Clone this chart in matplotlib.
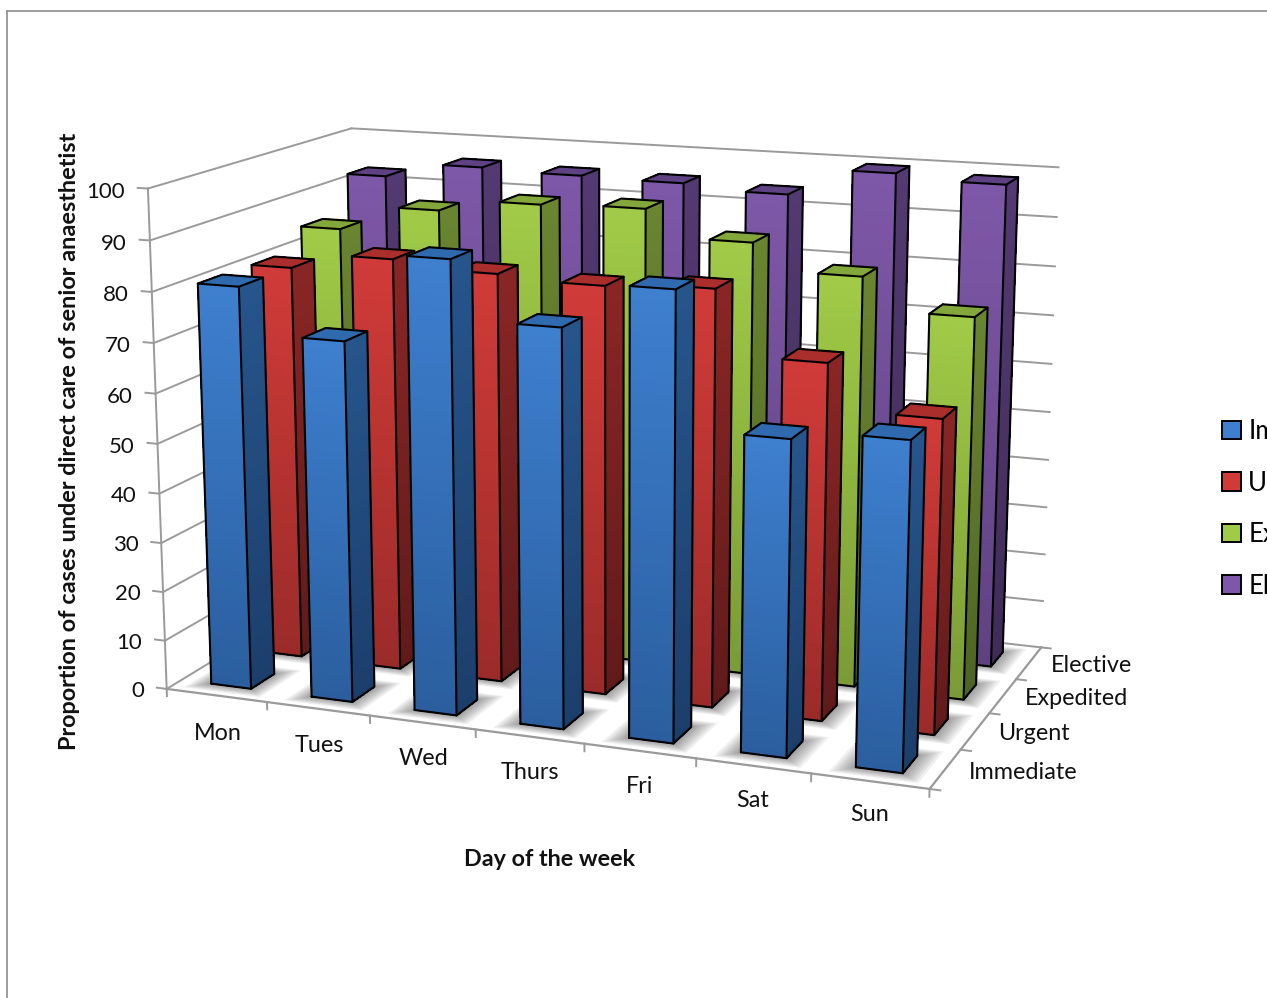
import matplotlib
matplotlib.use('Agg')
from matplotlib import pyplot as plt
from matplotlib.patches import Patch
from mpl_toolkits.mplot3d.art3d import Poly3DCollection
import numpy as np

days = ['Mon', 'Tues', 'Wed', 'Thurs', 'Fri', 'Sat', 'Sun']
grades = ['Immediate', 'Urgent', 'Expedited', 'Elective']
immediate = [81, 72, 89.3, 78, 86.7, 60.8, 62.6]
urgent = [80.8, 84, 82.6, 81.8, 82.8, 70.3, 61.5]
expedited = [85, 90.2, 92.7, 93.2, 87.9, 82.7, 76.4]
elective = [92.7, 95.8, 95.3, 95, 94, 99.5, 98.5]
values = [immediate, urgent, expedited, elective]
zticks = list(range(0, 101, 10))

# (front top, front bottom, side top, side bottom, top face)
colours = [
    ('#3E7FCF', '#2A5E9E', '#26558C', '#1C3E6B', '#2F6AAE'),
    ('#D03B38', '#9A2B29', '#8A2625', '#601A1A', '#A92E2C'),
    ('#A0CB47', '#7A9A36', '#6A8530', '#4E6424', '#83A73A'),
    ('#7E58A8', '#5F4180', '#533A72', '#3F2C57', '#5E4283'),
]
bar_w = 0.40
bar_d = 0.45
grid_c = '#9A9A9A'
# the day labels sit a little closer to the floor towards the right
day_label_z = [-8, -7.5, -7.2, -7.2, -7, -6.7, -6.5]

plt.rcParams['font.family'] = ['Lato', 'DejaVu Sans']
fig = plt.figure(figsize=(12.67, 9.98), dpi=100)
ax = fig.add_axes([-0.0265, 0.058, 1, 1], projection='3d')
ax.set_proj_type('persp', focal_length=0.55)
ax.view_init(elev=13.7, azim=-69)
ax.set_box_aspect((2.645, 1.5, 1.7), zoom=1.005)
ax.computed_zorder = False
ax.set_axis_off()


def mix(c1, c2, t):
    a = np.array(matplotlib.colors.to_rgb(c1))
    b = np.array(matplotlib.colors.to_rgb(c2))
    return tuple(a + (b - a) * t)


def draw_bar(x0, y0, h, cols, z):
    x1 = x0 + bar_w
    y1 = y0 + bar_d
    n = 40
    polys, fc = [], []
    for k in range(n):
        za = h * k / n
        zb = h * (k + 1) / n
        t = 1 - (k + 0.5) / n
        polys.append([(x0, y0, za), (x1, y0, za), (x1, y0, zb), (x0, y0, zb)])
        fc.append(mix(cols[0], cols[1], t))
        polys.append([(x1, y0, za), (x1, y1, za), (x1, y1, zb), (x1, y0, zb)])
        fc.append(mix(cols[2], cols[3], t))
    polys.append([(x0, y0, h), (x1, y0, h), (x1, y1, h), (x0, y1, h)])
    fc.append(cols[4])
    col = Poly3DCollection(polys, facecolors=fc, edgecolors=fc, linewidths=0.5)
    col.set_antialiased(False)
    col.set_zorder(z)
    ax.add_collection3d(col)
    # black outline of the box
    for xs, ys, zs in [
        ([x0, x1, x1, x0, x0], [y0, y0, y0, y0, y0], [0, 0, h, h, 0]),
        ([x1, x1, x1, x1], [y0, y1, y1, y0], [0, 0, h, h]),
        ([x0, x0, x1], [y0, y1, y1], [h, h, h]),
    ]:
        ax.plot(xs, ys, zs, color='black', lw=1.5, zorder=z + 0.5, solid_capstyle='round')


def draw_shadow(x0, y0):
    for s in [0.18, 0.155, 0.13, 0.105, 0.08, 0.055, 0.03]:
        q = [(x0 - s, y0 - s, 0), (x0 + bar_w + s, y0 - s, 0),
             (x0 + bar_w + s, y0 + bar_d + s, 0), (x0 - s, y0 + bar_d + s, 0)]
        c = Poly3DCollection([q], facecolors=(0, 0, 0, 0.06), edgecolors='none')
        c.set_zorder(2)
        ax.add_collection3d(c)


# walls
for t in zticks:
    ax.plot([0, 7], [4, 4], [t, t], color=grid_c, lw=1.4, zorder=1)
    ax.plot([0, 0], [0, 4], [t, t], color=grid_c, lw=1.4, zorder=1)
    ax.plot([-0.1, 0], [0, 0], [t, t], color=grid_c, lw=1.4, zorder=1)
    ax.text(-0.23, 0, t - 1, str(t), ha='right', va='center', fontsize=16, color='#111111', zorder=500)

# axis lines on the floor
ax.plot([0, 0], [0, 0], [0, 100], color=grid_c, lw=1.4, zorder=1)
ax.plot([0, 7], [0, 0], [0, 0], color=grid_c, lw=1.6, zorder=400)
ax.plot([7, 7], [0, 4], [0, 0], color=grid_c, lw=1.6, zorder=400)
for i in range(8):
    ax.plot([i, i], [0, 0], [0, -1.5], color=grid_c, lw=1.4, zorder=400)
for j in range(5):
    ax.plot([7, 7.09], [j, j], [0, 0], color=grid_c, lw=1.4, zorder=400)

for j in range(4):
    for i in range(7):
        draw_shadow(i + 0.5 - bar_w / 2, j + 0.5 - bar_d / 2)

# back row first, left to right, so the nearer boxes paint over the others
z = 10
for j in range(3, -1, -1):
    for i in range(7):
        draw_bar(i + 0.5 - bar_w / 2, j + 0.5 - bar_d / 2, values[j][i], colours[j], z)
        z += 1

for i, d in enumerate(days):
    ax.text(i + 0.5, 0, day_label_z[i], d, ha='center', va='center', fontsize=16.8, color='#111111', zorder=500)
for j, g in enumerate(grades):
    ax.text(7.2, j + 0.5, 0, g, ha='left', va='center', fontsize=16.8, color='#111111', zorder=500)

ax.set_xlim(0, 7, view_margin=0)
ax.set_ylim(0, 4, view_margin=0)
ax.set_zlim(0, 100, view_margin=0)

fig.text(550 / 1267, 1 - 860 / 998, 'Day of the week', ha='center', va='center',
         fontsize=16.8, fontweight='bold', color='#111111')
fig.text(70 / 1267, 1 - 441.5 / 998, 'Proportion of cases under direct care of senior anaesthetist',
         rotation=90, ha='center', va='center', fontsize=16.9, fontweight='bold', color='#111111')

handles = [Patch(facecolor=c[0], edgecolor='black', lw=1.4) for c in colours]
fig.legend(handles, grades, loc='upper left', bbox_to_anchor=(1217 / 1267, 1 - 414 / 998),
           frameon=False, fontsize=18.5, handlelength=0.72, handleheight=0.72,
           handletextpad=0.3, labelspacing=1.03, borderaxespad=0, borderpad=0.2)

# thin frame of the chart area, only the top and left show
fig.add_artist(plt.Line2D([7 / 1267, 7 / 1267], [0, 1 - 11 / 998], color='#8C8C8C', lw=1.2))
fig.add_artist(plt.Line2D([7 / 1267, 1], [1 - 11 / 998, 1 - 11 / 998], color='#8C8C8C', lw=1.2))

fig.savefig('out.png', dpi=100)
